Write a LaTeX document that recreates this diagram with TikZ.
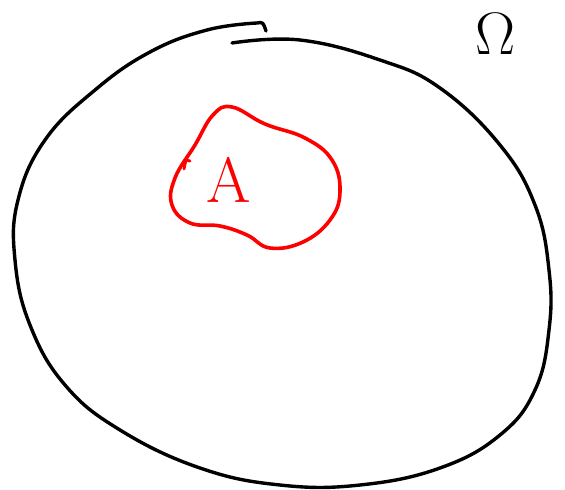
\documentclass[tikz,border=0pt]{standalone}
\begin{document}
\begin{tikzpicture}[x=1pt,y=-1pt,
  outline/.style={draw=black,line width=3.4pt,line cap=round,line join=round},
  setA/.style={draw=red,line width=3.6pt,line cap=round,line join=round},
  bigtext/.style={font=\fontsize{60}{60}\selectfont,inner sep=0pt}]
\useasboundingbox (0,0) rectangle (565,490);
% sample space outline
\draw[outline] plot[smooth,tension=0.7] coordinates {
 (232,43) (300,40) (380,60) (440,88) (500,145) (535,205) (549,270) (549,330)
 (535,390) (500,435) (440,468) (360,485) (280,485) (200,468) (120,430)
 (65,385) (30,325) (15,260) (18,200) (45,140) (95,90) (150,52) (207,30) (257,23)}
 .. controls (263,22) .. (266,31);
% event A
\draw[setA] plot[smooth cycle,tension=0.7] coordinates {
 (213,115) (232,107) (265,124) (305,138) (332,160) (340,192) (330,220)
 (303,242) (270,248) (247,235) (220,226) (190,223) (172,205) (175,178) (195,145)};
\draw[setA,line width=2.8pt] (184,169) -- (186,160) -- (190,161);
\node[bigtext,text=red] (A) at (229,180) {\fontsize{64}{64}\selectfont A};
\node[bigtext,text=black] (omega) at (496,34) {Ω};
\end{tikzpicture}
\end{document}
